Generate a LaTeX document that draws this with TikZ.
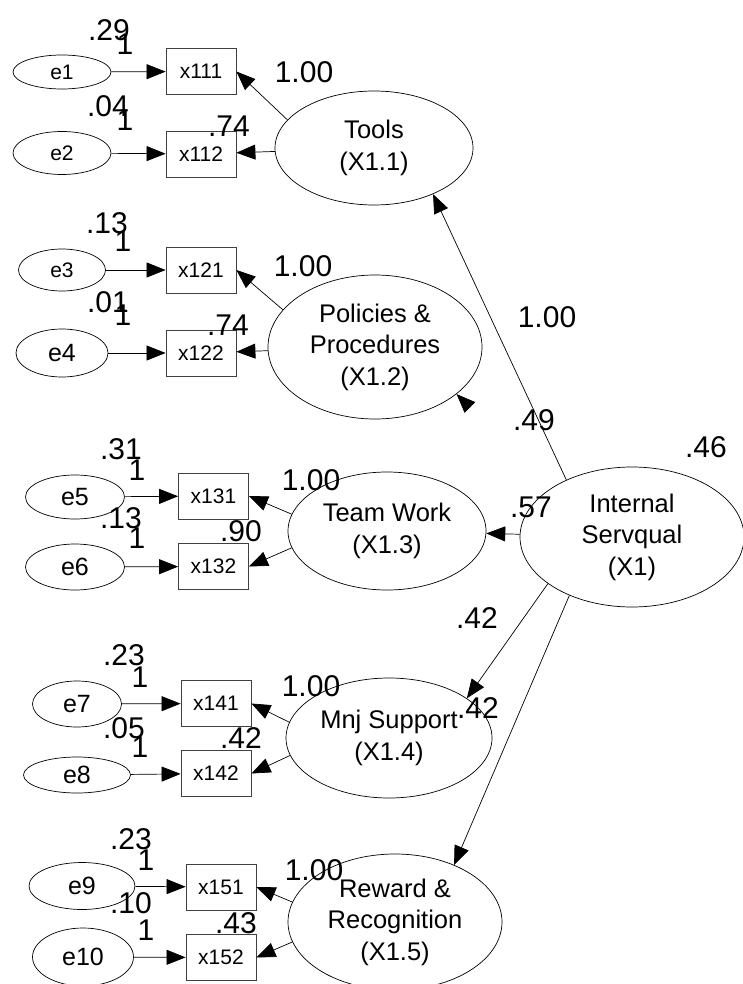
\documentclass[tikz,border=0pt]{standalone}
\usepackage{fontspec}
\setmainfont{Liberation Sans}
\usetikzlibrary{shapes.geometric,arrows.meta,calc}
\begin{document}
\begin{tikzpicture}[x=1pt,y=-1pt,
  lat/.style={draw, ellipse, line width=0.7pt, inner sep=0pt, align=center, font=\fontsize{25.5}{31.5}\selectfont},
  err/.style={draw, ellipse, line width=0.7pt, inner sep=0pt},
  obs/.style={draw=black!75, rectangle, line width=0.8pt, minimum width=70pt, minimum height=46pt, inner sep=0pt, font=\fontsize{21}{24}\selectfont},
  num/.style={inner sep=0pt, font=\fontsize{30}{32}\selectfont},
  arr/.style={line width=0.7pt, -{Triangle[length=19pt,width=15pt]}},
  esmall/.style={font=\fontsize{21}{24}\selectfont},
  ebig/.style={font=\fontsize{25}{28}\selectfont},
]
\useasboundingbox (0,0) rectangle (742,984);

% error terms
\node[err, esmall, minimum width=98pt, minimum height=34pt] (e1) at (62,72) {e1};
\node[err, esmall, minimum width=98pt, minimum height=43pt] (e2) at (62,153) {e2};
\node[err, esmall, minimum width=87pt, minimum height=42pt] (e3) at (62,270) {e3};
\node[err, ebig, minimum width=92pt, minimum height=48pt] (e4) at (62,353) {e4};
\node[err, ebig, minimum width=99pt, minimum height=44pt] (e5) at (75,497) {e5};
\node[err, ebig, minimum width=99pt, minimum height=46pt] (e6) at (75,567) {e6};
\node[err, ebig, minimum width=89pt, minimum height=46pt] (e7) at (77,704) {e7};
\node[err, ebig, minimum width=107pt, minimum height=36pt] (e8) at (77,775) {e8};
\node[err, ebig, minimum width=106pt, minimum height=47pt] (e9) at (82,886) {e9};
\node[err, ebig, minimum width=101pt, minimum height=58pt] (e10) at (83,957) {e10};

% observed
\node[obs] (x111) at (201,71.5) {x111};
\node[obs] (x112) at (201,154) {x112};
\node[obs] (x121) at (201,270) {x121};
\node[obs] (x122) at (201,353) {x122};
\node[obs] (x131) at (213.5,496) {x131};
\node[obs] (x132) at (213.5,566.5) {x132};
\node[obs] (x141) at (216,703.5) {x141};
\node[obs] (x142) at (216,773.5) {x142};
\node[obs] (x151) at (221,887) {x151};
\node[obs] (x152) at (221,957.5) {x152};

% latent
\node[lat, minimum width=198pt, minimum height=114pt] (tools) at (374,148) {Tools\\(X1.1)};
\node[lat, minimum width=214pt, minimum height=144pt] (pol) at (375,347) {Policies \&\\Procedures\\(X1.2)};
\node[lat, minimum width=198pt, minimum height=118pt] (team) at (387,531) {Team Work\\(X1.3)};
\node[lat, minimum width=224pt, minimum height=140pt] (x1) at (632,537) {Internal\\Servqual\\(X1)};
\node[lat, minimum width=206pt, minimum height=120pt] (mnj) at (389,738) {Mnj Support\\(X1.4)};
\node[lat, minimum width=214pt, minimum height=136pt] (rew) at (395,922) {Reward \&\\Recognition\\(X1.5)};

% error arrows
\draw[arr] (e1) -- (x111);
\draw[arr] (e2) -- (x112);
\draw[arr] (e3) -- (x121);
\draw[arr] (e4) -- (x122);
\draw[arr] (e5) -- (x131);
\draw[arr] (e6) -- (x132);
\draw[arr] (e7) -- (x141);
\draw[arr] (e8) -- (x142);
\draw[arr] (e9) -- (x151);
\draw[arr] (e10) -- (x152);

% loadings
\draw[arr] (tools.162) -- (x111.east);
\draw[arr] (tools) -- (x112);
\draw[arr] (pol.158) -- (x121.east);
\draw[arr] (pol) -- (x122);
\draw[arr] (team.170.6) -- (x131.east);
\draw[arr] (team.190) -- (x132.east);
\draw[arr] (mnj.171) -- (x141.east);
\draw[arr] (mnj.190) -- (x142.east);
\draw[arr] (rew.169.4) -- (x151.east);
\draw[arr] (rew.191) -- (x152.east);

% second order
\draw[arr] (x1.139.6) -- (tools.322);
\draw[arr] (x1) -- (team);
\draw[arr] (x1.209.7) -- (mnj.27);
\draw[arr] (x1.223.1) -- (rew.44.5);
\coordinate (polstub) at ($(pol.330)+(13.5,13.5)$);
\draw[arr] (polstub) -- (pol.330);

% numeric labels
\node[num] (n1) at (109,30) {.29};
\node[num] (n2) at (125,44) {1};
\node[num] (n3) at (108,106) {.04};
\node[num] (n4) at (125,120) {1};
\node[num] (n5) at (304,72) {1.00};
\node[num] (n6) at (229,126) {.74};
\node[num] (n7) at (107,223) {.13};
\node[num] (n8) at (123,241) {1};
\node[num] (n9) at (108,302) {.01};
\node[num] (n10) at (123,315) {1};
\node[num] (n11) at (303,266) {1.00};
\node[num] (n12) at (228,325) {.74};
\node[num] (n13) at (121,449) {.31};
\node[num] (n14) at (137,470) {1};
\node[num] (n15) at (121,518) {.13};
\node[num] (n16) at (137,538) {1};
\node[num] (n17) at (311,480) {1.00};
\node[num] (n18) at (241,531) {.90};
\node[num] (n19) at (124,655) {.23};
\node[num] (n20) at (140,677) {1};
\node[num] (n21) at (124,728) {.05};
\node[num] (n22) at (140,747) {1};
\node[num] (n23) at (311,686) {1.00};
\node[num] (n24) at (241,738) {.42};
\node[num] (n25) at (131,839) {.23};
\node[num] (n26) at (146,860) {1};
\node[num] (n27) at (131,903) {.10};
\node[num] (n28) at (146,930) {1};
\node[num] (n29) at (314,870) {1.00};
\node[num] (n30) at (236,923) {.43};
\node[num] (n31) at (547,317) {1.00};
\node[num] (n32) at (534,420) {.49};
\node[num] (n33) at (706,447) {.46};
\node[num] (n34) at (531,507) {.57};
\node[num] (n35) at (477,618) {.42};
\node[num] (n36) at (478,708) {.42};
\end{tikzpicture}
\end{document}
